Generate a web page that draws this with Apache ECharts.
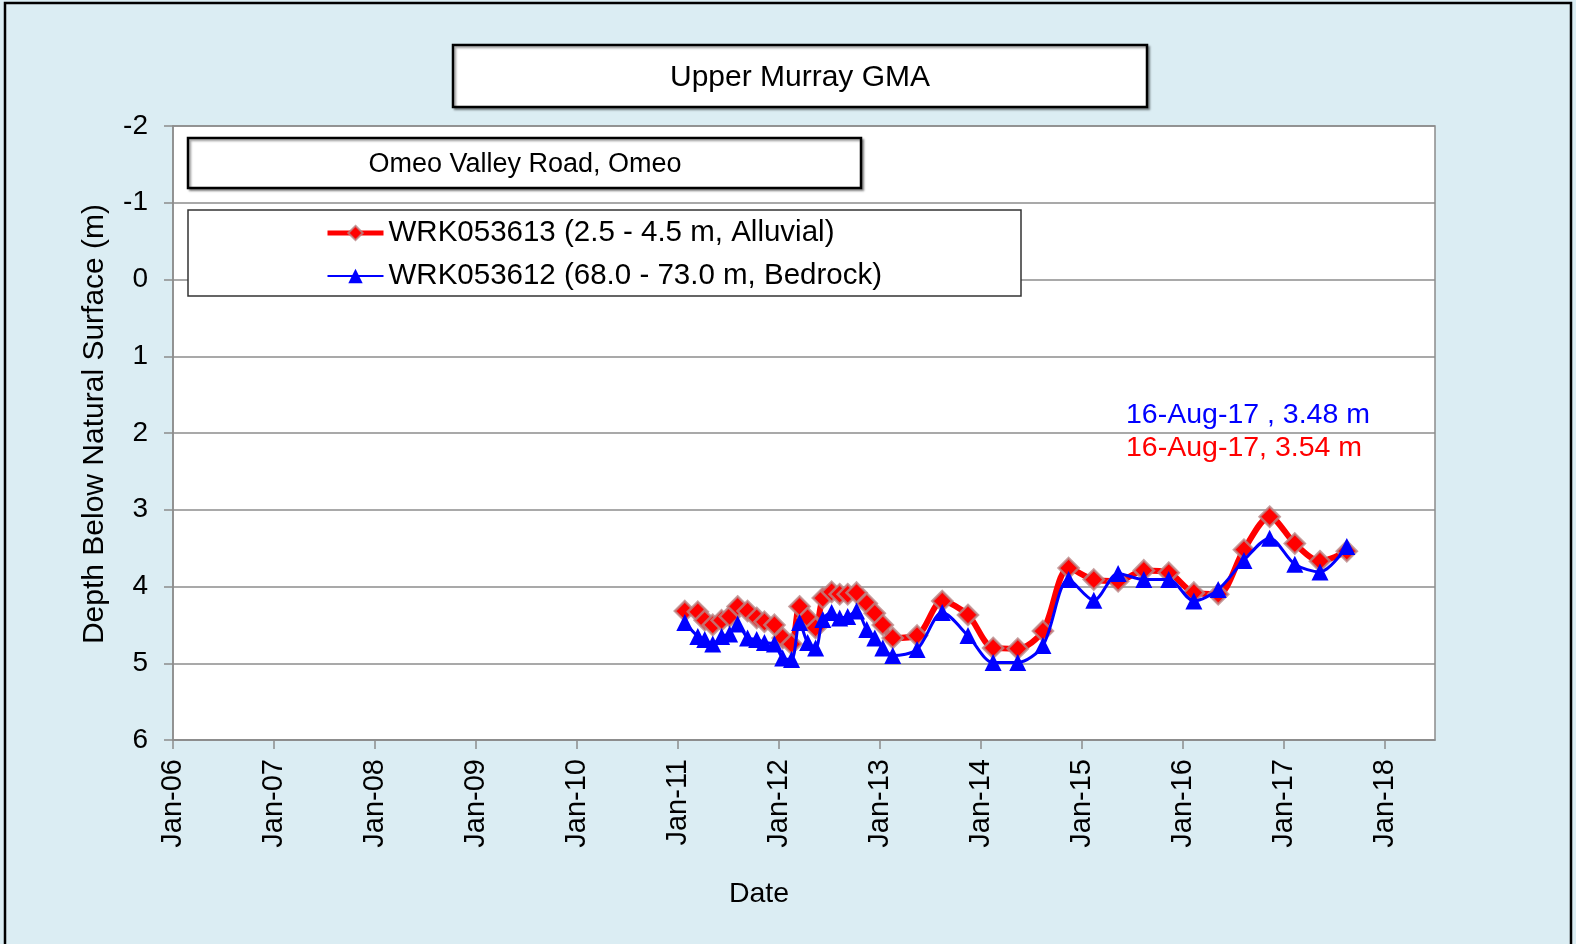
<!DOCTYPE html>
<html>
<head>
<meta charset="utf-8">
<title>Upper Murray GMA</title>
<script src="https://cdn.jsdelivr.net/npm/echarts@6.0.0/dist/echarts.min.js"></script>
<style>
  html, body { margin: 0; padding: 0; background: #dbedf3; }
  #chart { width: 1576px; height: 944px; }
</style>
</head>
<body>
<div id="chart"></div>
<script>
// sample dates (shared by both bores)
const dates = [
  '2011-01-26', '2011-03-14', '2011-04-08', '2011-05-07', '2011-06-08', '2011-07-07',
  '2011-08-05', '2011-09-10', '2011-10-13', '2011-11-10', '2011-12-16',
  '2012-01-15', '2012-02-16', '2012-03-16', '2012-04-14', '2012-05-13', '2012-06-08',
  '2012-07-10', '2012-08-08', '2012-09-06', '2012-10-08', '2012-11-14', '2012-12-13',
  '2013-01-11', '2013-02-16',
  '2013-05-15', '2013-08-14', '2013-11-15',
  '2014-02-14', '2014-05-14', '2014-08-13', '2014-11-14',
  '2015-02-13', '2015-05-12', '2015-08-13', '2015-11-11',
  '2016-02-10', '2016-05-08', '2016-08-09', '2016-11-10',
  '2017-02-09', '2017-05-11', '2017-08-16'
];

// WRK053613 (alluvial), depth below natural surface in m
const alluvial = [
  4.32, 4.33, 4.44, 4.50, 4.44, 4.39, 4.26, 4.32, 4.41, 4.46, 4.50,
  4.67, 4.75, 4.26, 4.41, 4.54, 4.15, 4.07, 4.10, 4.10, 4.08, 4.22, 4.35,
  4.50, 4.67,
  4.64, 4.19, 4.37,
  4.80, 4.81, 4.58, 3.76,
  3.91, 3.93, 3.79, 3.82,
  4.08, 4.10, 3.52, 3.09,
  3.44, 3.67, 3.54
];

// WRK053612 (bedrock)
const bedrock = [
  4.47, 4.65, 4.69, 4.75, 4.65, 4.62, 4.49, 4.67, 4.69, 4.73, 4.75,
  4.93, 4.95, 4.47, 4.73, 4.80, 4.43, 4.34, 4.41, 4.39, 4.32, 4.56, 4.67,
  4.80, 4.90,
  4.82, 4.34, 4.64,
  4.99, 4.99, 4.77, 3.91,
  4.18, 3.83, 3.91, 3.91,
  4.19, 4.04, 3.66, 3.37,
  3.71, 3.81, 3.48
];

const tickYears = [2006, 2007, 2008, 2009, 2010, 2011, 2012, 2013, 2014, 2015, 2016, 2017, 2018];
const monthNames = ['Jan', 'Feb', 'Mar', 'Apr', 'May', 'Jun', 'Jul', 'Aug', 'Sep', 'Oct', 'Nov', 'Dec'];

const seriesNames = ['WRK053613 (2.5 - 4.5 m, Alluvial)', 'WRK053612 (68.0 - 73.0 m, Bedrock)'];
const FONT = '"Liberation Sans", Arial, sans-serif';

function toTime(s) {
  const p = s.split('-').map(Number);
  return new Date(p[0], p[1] - 1, p[2]).getTime();
}

function shortDate(t) {
  const d = new Date(Math.round(t));
  return monthNames[d.getMonth()] + '-' + String(d.getFullYear()).slice(2);
}

function longDate(s) {
  const t = toTime(s);
  return new Date(t).getDate() + '-' + shortDate(t);
}

const tickValues = tickYears.map((y) => new Date(y, 0, 1).getTime());
const lastDate = dates[dates.length - 1];

const chart = echarts.init(document.getElementById('chart'));

chart.setOption({
  backgroundColor: '#dbedf3',
  animation: false,
  textStyle: { fontFamily: FONT },
  grid: {
    left: 173, top: 126, width: 1262, height: 614,
    show: true, backgroundColor: '#fff', borderColor: '#8c8c8c', borderWidth: 1.5
  },
  legend: {
    orient: 'vertical',
    left: 325,
    top: 218,
    z: 6,
    itemWidth: 56,
    itemHeight: 18,
    itemGap: 13,
    padding: 0,
    textStyle: { fontSize: 29.5, color: '#000', fontFamily: FONT },
    data: [
      { name: seriesNames[0], lineStyle: { width: 5 } },
      { name: seriesNames[1], lineStyle: { width: 2 } }
    ]
  },
  xAxis: {
    type: 'value',
    min: toTime('2006-01-01'),
    max: toTime('2018-07-01'),
    axisLine: { show: true, onZero: false, lineStyle: { color: '#8c8c8c', width: 1.5 } },
    axisTick: { show: true, length: 9, lineStyle: { color: '#8c8c8c', width: 1.5 }, customValues: tickValues },
    axisLabel: {
      customValues: tickValues,
      rotate: 90,
      margin: 19,
      fontSize: 29,
      color: '#000',
      fontFamily: FONT,
      formatter: (val) => shortDate(val)
    },
    splitLine: { show: false }
  },
  yAxis: {
    type: 'value',
    inverse: true,
    min: -2,
    max: 6,
    interval: 1,
    axisLine: { show: true, lineStyle: { color: '#8c8c8c', width: 1.5 } },
    axisTick: { show: true, length: 9, lineStyle: { color: '#8c8c8c', width: 1.5 } },
    axisLabel: { margin: 25, fontSize: 28, color: '#000', fontFamily: FONT },
    splitLine: { show: true, lineStyle: { color: '#8c8c8c', width: 1.5 } }
  },
  series: [
    {
      name: seriesNames[0],
      type: 'line',
      smooth: 0.3,
      data: dates.map((d, i) => [toTime(d), alluvial[i]]),
      symbol: 'diamond',
      symbolSize: 20,
      lineStyle: { color: '#ff0000', width: 6 },
      itemStyle: { color: '#ff0000', borderColor: 'rgba(185,135,135,0.8)', borderWidth: 2.5 },
      z: 2
    },
    {
      name: seriesNames[1],
      type: 'line',
      smooth: 0.3,
      data: dates.map((d, i) => [toTime(d), bedrock[i]]),
      symbol: 'triangle',
      symbolSize: 17,
      lineStyle: { color: '#0000ff', width: 3 },
      itemStyle: { color: '#0000ff' },
      z: 3
    }
  ],
  graphic: [
    {
      type: 'rect', z: 4,
      shape: { x: 453, y: 45, width: 694, height: 62 },
      style: { fill: '#fff', stroke: '#000', lineWidth: 2.5, shadowColor: 'rgba(0,0,0,0.35)', shadowOffsetX: 2, shadowOffsetY: 2, shadowBlur: 2 }
    },
    {
      type: 'text', z: 5, x: 800, y: 78,
      style: { text: 'Upper Murray GMA', fill: '#000', font: '30px ' + FONT, textAlign: 'center', textVerticalAlign: 'middle' }
    },
    {
      type: 'rect', z: 4,
      shape: { x: 188, y: 138, width: 673, height: 50 },
      style: { fill: '#fff', stroke: '#000', lineWidth: 2.5, shadowColor: 'rgba(0,0,0,0.35)', shadowOffsetX: 2, shadowOffsetY: 2, shadowBlur: 2 }
    },
    {
      type: 'text', z: 5, x: 525, y: 165,
      style: { text: 'Omeo Valley Road, Omeo', fill: '#000', font: '27px ' + FONT, textAlign: 'center', textVerticalAlign: 'middle' }
    },
    {
      type: 'rect', z: 4,
      shape: { x: 188, y: 210, width: 833, height: 86 },
      style: { fill: '#fff', stroke: '#333', lineWidth: 1.5 }
    },
    {
      type: 'text', z: 5, x: 1126, y: 415,
      style: { text: longDate(lastDate) + ' , ' + bedrock[bedrock.length - 1].toFixed(2) + ' m', fill: '#0000ff', font: '28.5px ' + FONT, textVerticalAlign: 'middle' }
    },
    {
      type: 'text', z: 5, x: 1126, y: 448,
      style: { text: longDate(lastDate) + ', ' + alluvial[alluvial.length - 1].toFixed(2) + ' m', fill: '#ff0000', font: '28.5px ' + FONT, textVerticalAlign: 'middle' }
    },
    {
      type: 'text', z: 5, x: 759, y: 894,
      style: { text: 'Date', fill: '#000', font: '28.5px ' + FONT, textAlign: 'center', textVerticalAlign: 'middle' }
    },
    {
      type: 'text', z: 5, x: 95, y: 424, rotation: Math.PI / 2,
      style: { text: 'Depth Below Natural Surface (m)', fill: '#000', font: '30px ' + FONT, textAlign: 'center', textVerticalAlign: 'middle' }
    },
    {
      type: 'rect', z: 10, silent: true,
      shape: { x: 5, y: 3, width: 1566, height: 960 },
      style: { fill: 'none', stroke: '#000', lineWidth: 2.5 }
    }
  ]
});
</script>
</body>
</html>
